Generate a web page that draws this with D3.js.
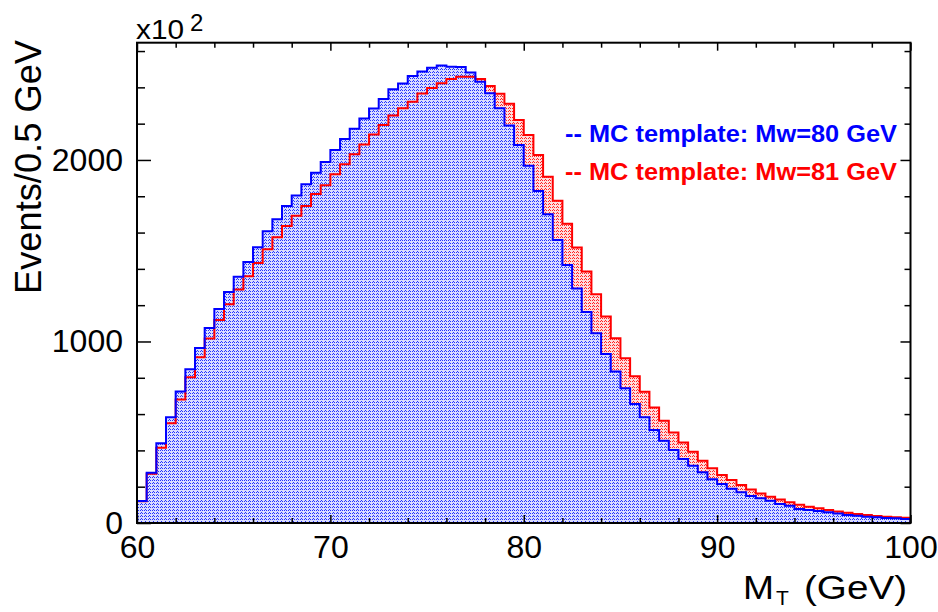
<!DOCTYPE html>
<html>
<head>
<meta charset="utf-8">
<script src="https://cdn.jsdelivr.net/npm/d3@7"></script>
<style>
  body { margin: 0; background: #fff; }
  svg text { font-family: "Liberation Sans", Arial, Helvetica, sans-serif; }
</style>
</head>
<body>
<svg class="chart" width="938" height="612"></svg>
<script>
/*
      Data (counts per 0.5 GeV bin, in units of 10^2)
*/
const binStart = 60;
const binWidth = 0.5;

// MC template, Mw = 80 GeV (blue)
const mw80Counts = [
  121, 277, 439, 582, 725, 847, 964, 1074, 1179, 1273,
  1357, 1438, 1519, 1607, 1673, 1747, 1804, 1866, 1930, 1989,
  2055, 2116, 2172, 2228, 2284, 2336, 2390, 2421, 2462, 2488,
  2508, 2520, 2514, 2512, 2482, 2431, 2368, 2285, 2190, 2083,
  1968, 1829, 1701, 1559, 1421, 1292, 1163, 1045, 931, 834,
  742, 656, 582, 512, 453, 402, 353, 316, 279, 241,
  215, 189, 169, 149, 136, 123, 105, 95, 77, 72,
  66, 59, 53, 44, 40, 35, 31, 28, 26, 22,
];

// MC template, Mw = 81 GeV (red)
const mw81Counts = [
  120, 272, 415, 549, 681, 803, 913, 1017, 1118, 1205,
  1286, 1359, 1432, 1508, 1574, 1636, 1693, 1747, 1813, 1861,
  1921, 1976, 2031, 2085, 2140, 2193, 2245, 2285, 2321, 2366,
  2396, 2423, 2446, 2459, 2459, 2446, 2408, 2365, 2310, 2220,
  2138, 2028, 1908, 1775, 1648, 1518, 1385, 1260, 1137, 1018,
  907, 808, 723, 636, 563, 498, 443, 393, 343, 301,
  264, 237, 209, 185, 163, 145, 130, 114, 101, 90,
  81, 72, 64, 57, 50, 44, 39, 35, 31, 29,
];

const xTicks = [60, 70, 80, 90, 100];
const xMinorTicks = [62, 64, 66, 68, 72, 74, 76, 78, 82, 84, 86, 88, 92, 94, 96, 98];
const yTicks = [0, 1000, 2000];
const yMinorTicks = [200, 400, 600, 800, 1200, 1400, 1600, 1800, 2200, 2400, 2600];

const legendLabels = ["-- MC template: Mw=80 GeV", "-- MC template: Mw=81 GeV"];

/*
      Setup
*/
const svg = d3.select(".chart");
const plot = { left: 137, right: 910.5, top: 42.7, bottom: 523 };

const x = d3.scaleLinear().domain([60, 100]).range([plot.left, plot.right]);
const y = d3.scaleLinear().domain([0, 2646]).range([plot.bottom, plot.top]);

// dotted fill patterns, like ROOT fill style 30xx
const defs = svg.append("defs");
function addPattern(id, bg, dot) {
  const p = defs
    .append("pattern")
    .attr("id", id)
    .attr("patternUnits", "userSpaceOnUse")
    .attr("width", 4)
    .attr("height", 3);
  p.append("rect").attr("width", 4).attr("height", 3).attr("fill", bg);
  p.append("rect").attr("x", 0).attr("y", 0).attr("width", 1).attr("height", 1).attr("fill", dot);
  p.append("rect").attr("x", 2).attr("y", 0).attr("width", 1).attr("height", 1).attr("fill", dot);
  p.append("rect").attr("x", 1).attr("y", 2).attr("width", 1).attr("height", 1).attr("fill", dot);
}
addPattern("fillBlue", "#d9dcff", "#2233ff");
addPattern("fillRed", "#ffdcdc", "#ff2020");

defs
  .append("clipPath")
  .attr("id", "plotClip")
  .append("rect")
  .attr("x", plot.left)
  .attr("y", plot.top)
  .attr("width", plot.right - plot.left)
  .attr("height", plot.bottom - plot.top);

/*
      Histograms
*/
function stepPoints(counts) {
  const pts = [[x(binStart), y(0)]];
  counts.forEach((v, i) => {
    const lo = binStart + i * binWidth;
    pts.push([x(lo), y(v)]);
    pts.push([x(lo + binWidth), y(v)]);
  });
  pts.push([x(binStart + counts.length * binWidth), y(0)]);
  return pts;
}

const line = d3.line();
const hist = svg.append("g").attr("clip-path", "url(#plotClip)");

const redPts = stepPoints(mw81Counts);
const bluePts = stepPoints(mw80Counts);

hist.append("path").attr("d", line(redPts) + "Z").attr("fill", "url(#fillRed)").attr("shape-rendering", "crispEdges");
hist.append("path").attr("d", line(bluePts) + "Z").attr("fill", "url(#fillBlue)").attr("shape-rendering", "crispEdges");

hist.append("path").attr("d", line(redPts)).attr("fill", "none").attr("stroke", "#ff0000").attr("stroke-width", 2);
hist.append("path").attr("d", line(bluePts)).attr("fill", "none").attr("stroke", "#0000ff").attr("stroke-width", 2);

/*
      Axes (ticks inside, on all four sides)
*/
function tickAxis(axisFn, scale, values, size, transform) {
  const g = svg
    .append("g")
    .attr("transform", transform)
    .call(axisFn(scale).tickValues(values).tickSize(-size).tickFormat(""));
  g.select(".domain").remove();
  g.selectAll(".tick line").attr("stroke", "#000").attr("stroke-width", 1.5);
  return g;
}

tickAxis(d3.axisBottom, x, xMinorTicks, 5, `translate(0,${plot.bottom})`);
tickAxis(d3.axisTop, x, xMinorTicks, 5, `translate(0,${plot.top})`);
tickAxis(d3.axisTop, x, xTicks, 8, `translate(0,${plot.top})`);
tickAxis(d3.axisLeft, y, yMinorTicks, 8, `translate(${plot.left},0)`);
tickAxis(d3.axisRight, y, yMinorTicks, 6, `translate(${plot.right},0)`);
tickAxis(d3.axisRight, y, yTicks, 10, `translate(${plot.right},0)`);

const xAxis = svg
  .append("g")
  .attr("transform", `translate(0,${plot.bottom})`)
  .call(d3.axisBottom(x).tickValues(xTicks).tickSize(-8).tickPadding(12).tickFormat(d3.format("d")));
xAxis.select(".domain").remove();

const yAxis = svg
  .append("g")
  .attr("transform", `translate(${plot.left},0)`)
  .call(d3.axisLeft(y).tickValues(yTicks).tickSize(-14).tickPadding(14).tickFormat(d3.format("d")));
yAxis.select(".domain").remove();

[xAxis, yAxis].forEach((g) => {
  g.selectAll(".tick line").attr("stroke", "#000").attr("stroke-width", 1.5);
  g.selectAll(".tick text").attr("font-size", 32).attr("fill", "#000").style("font-family", '"Liberation Sans", Arial, sans-serif');
});

// frame
svg
  .append("rect")
  .attr("x", plot.left)
  .attr("y", plot.top)
  .attr("width", plot.right - plot.left)
  .attr("height", plot.bottom - plot.top)
  .attr("fill", "none")
  .attr("stroke", "#000")
  .attr("stroke-width", 2);

/*
      Titles
*/
svg
  .append("text")
  .attr("transform", "translate(41,40) rotate(-90)")
  .attr("text-anchor", "end")
  .attr("font-size", 37)
  .attr("textLength", 254)
  .attr("lengthAdjust", "spacingAndGlyphs")
  .text("Events/0.5 GeV");

svg.append("text").attr("x", 136).attr("y", 39).attr("font-size", 27).attr("textLength", 48).attr("lengthAdjust", "spacingAndGlyphs").text("x10");
svg.append("text").attr("x", 190).attr("y", 31).attr("font-size", 24).text("2");

svg.append("text").attr("x", 743).attr("y", 599).attr("font-size", 33).attr("textLength", 31).attr("lengthAdjust", "spacingAndGlyphs").text("M");
svg.append("text").attr("x", 776).attr("y", 605).attr("font-size", 21).text("T");
svg.append("text").attr("x", 804).attr("y", 599).attr("font-size", 33).attr("textLength", 103).attr("lengthAdjust", "spacingAndGlyphs").text("(GeV)");

/*
      Legend
*/
const legendColors = ["#0000ff", "#ff0000"];
svg
  .append("g")
  .selectAll("text")
  .data(legendLabels)
  .join("text")
  .attr("x", 565)
  .attr("y", (d, i) => 142 + i * 38)
  .attr("font-size", 24)
  .attr("font-weight", "bold")
  .attr("textLength", 332)
  .attr("lengthAdjust", "spacingAndGlyphs")
  .attr("fill", (d, i) => legendColors[i])
  .text((d) => d);
</script>
</body>
</html>
